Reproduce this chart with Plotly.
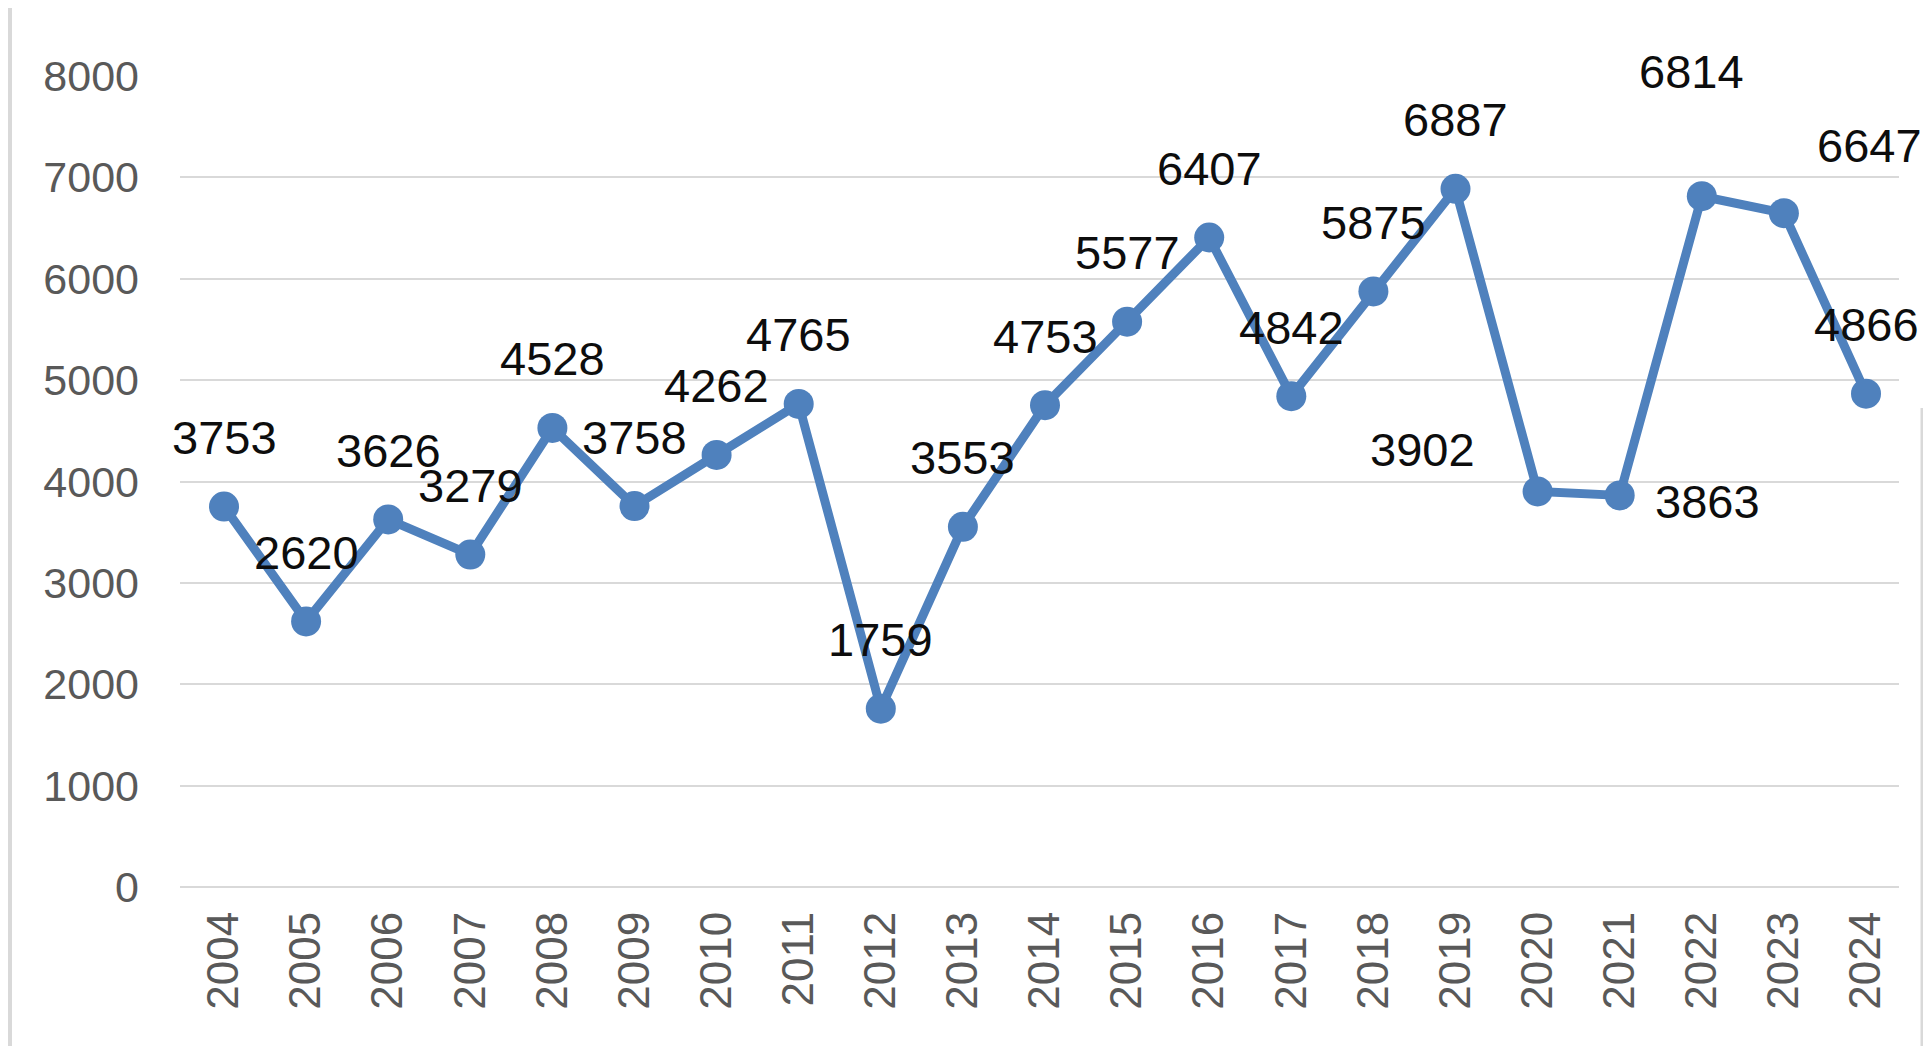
import plotly.graph_objects as go

years = list(range(2004, 2025))
values = [3753, 2620, 3626, 3279, 4528, 3758, 4262, 4765, 1759, 3553, 4753,
          5577, 6407, 4842, 5875, 6887, 3902, 3863, 6814, 6647, 4866]
y_ticks = [0, 1000, 2000, 3000, 4000, 5000, 6000, 7000, 8000]

# label offsets (pixels) relative to each point: (xshift, yshift)
label_dx = [0] * 21
label_dy = [69] * 21
label_dx[16], label_dy[16] = -115, 42
label_dx[17], label_dy[17] = 88, -6
label_dx[18], label_dy[18] = -10, 125
label_dx[19], label_dy[19] = 86, 68

blue = "#4F81BD"
PW, PH = 1719, 811  # plot area size in px
ML, MT = 172, 68

fig = go.Figure()
fig.add_trace(go.Scatter(
    x=years, y=values, mode="lines+markers",
    line=dict(color=blue, width=9),
    marker=dict(color=blue, size=30),
    cliponaxis=False, showlegend=False, hoverinfo="x+y",
))

for i, (yr, v) in enumerate(zip(years, values)):
    fig.add_annotation(
        x=yr, y=v, xref="x", yref="y", text=str(v), showarrow=False,
        xshift=label_dx[i], yshift=label_dy[i], xanchor="center", yanchor="middle",
        font=dict(family="Liberation Sans, Arial, sans-serif", size=47, color="#0d0d0d"),
    )

# window borders seen in the reference
fig.add_shape(type="line", xref="paper", yref="paper",
              x0=(2 - ML) / PW, x1=(2 - ML) / PW, y0=-200 / PH, y1=(PH + 100) / PH,
              line=dict(color="#d9d9d9", width=4))
fig.add_shape(type="line", xref="paper", yref="paper",
              x0=(1915.5 - ML) / PW, x1=(1915.5 - ML) / PW, y0=-200 / PH, y1=(887 - 408) / PH,
              line=dict(color="#d9d9d9", width=6))

fig.update_layout(
    width=1923, height=1038,
    margin=dict(l=ML, r=1923 - ML - PW, t=MT, b=1038 - MT - PH),
    paper_bgcolor="white", plot_bgcolor="white",
    font=dict(family="Liberation Sans, Arial, sans-serif", color="#595959"),
)
fig.update_xaxes(
    type="linear", range=[years[0] - 0.536, years[-1] + 0.402],
    tickvals=years, ticktext=[str(y) for y in years],
    tickangle=-90, showgrid=False, showline=False, zeroline=False,
    tickfont=dict(size=44, color="#595959"), ticks="", ticklabelstandoff=15,
)
fig.update_yaxes(
    range=[0, 8000], tickvals=y_ticks, ticktext=[str(t) for t in y_ticks],
    showgrid=True, gridcolor="#d9d9d9", gridwidth=1.5,
    zeroline=True, zerolinecolor="#d9d9d9", zerolinewidth=1.5,
    showline=False, ticks="", tickfont=dict(size=43, color="#595959"),
    ticklabelstandoff=40,
)

fig.write_html("out.html")
